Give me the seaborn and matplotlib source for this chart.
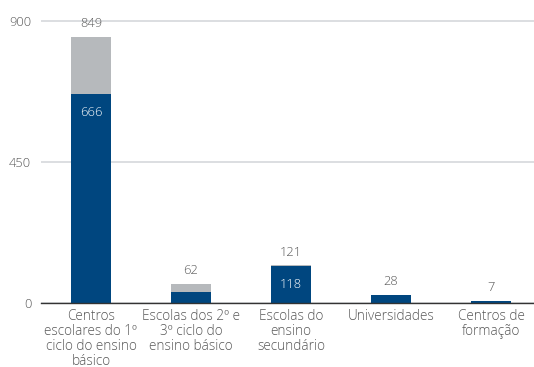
import matplotlib
matplotlib.use("Agg")
import matplotlib.pyplot as plt
import seaborn as sns
import pandas as pd

categories = [
    "Centros\nescolares do 1º\nciclo do ensino\nbásico",
    "Escolas dos 2º e\n3º ciclo do\nensino básico",
    "Escolas do\nensino\nsecundário",
    "Universidades",
    "Centros de\nformação",
]
totals = [849, 62, 121, 28, 7]
blue_part = [666, 37, 118, 28, 7]
total_labels = ["849", "62", "121", "28", "7"]
inner_labels = ["666", "", "118", "", ""]
y_ticks = [0, 450, 900]

BLUE = "#00467f"
GREY = "#b6b9bc"
TEXT = "#585858"

sns.set_theme(style="white")
plt.rcParams["font.family"] = ["Open Sans", "DejaVu Sans"]

df = pd.DataFrame({"cat": categories, "total": totals, "blue": blue_part})

fig = plt.figure(figsize=(5.34, 3.67), dpi=100)
ax = fig.add_axes([41 / 534, 1 - 303.3 / 367, 1 - 41 / 534, (303.3 - 19.0) / 367])

sns.barplot(data=df, x="cat", y="total", color=GREY, width=0.4, saturation=1,
            linewidth=0, ax=ax, zorder=2)
sns.barplot(data=df, x="cat", y="blue", color=BLUE, width=0.4, saturation=1,
            linewidth=0, ax=ax, zorder=3)

ax.set_ylim(0, 905)
ax.set_xlim(-0.5, 4.43)
ax.set_yticks(y_ticks)
ax.set_yticklabels([str(t) for t in y_ticks], color=TEXT, fontsize=9.3, fontweight="light")
ax.yaxis.grid(True, color="#d5d8db", linewidth=1.2, zorder=0)
ax.set_axisbelow(True)
ax.tick_params(axis="y", length=0, pad=7)
ax.tick_params(axis="x", length=0, pad=4)
ax.set_xticklabels(categories, color=TEXT, fontsize=9.8, fontweight="light", linespacing=1.0)
ax.set_xlabel("")
ax.set_ylabel("")
for s in ["left", "right", "top"]:
    ax.spines[s].set_visible(False)
ax.spines["bottom"].set_color("#333333")
ax.spines["bottom"].set_linewidth(1.0)
ax.spines["bottom"].set_zorder(4)

for i, (t, lab) in enumerate(zip(totals, total_labels)):
    ax.annotate(lab, (i, t), xytext=(0, 9.5), textcoords="offset points",
                ha="center", va="center", color=TEXT, fontsize=9.3, fontweight="light")
for i, (b, lab) in enumerate(zip(blue_part, inner_labels)):
    if lab:
        ax.annotate(lab, (i, b), xytext=(0, -13.5), textcoords="offset points",
                    ha="center", va="center", color="white", fontsize=9.3,
                    fontweight="light", zorder=5)

fig.savefig("out.png", dpi=100)
